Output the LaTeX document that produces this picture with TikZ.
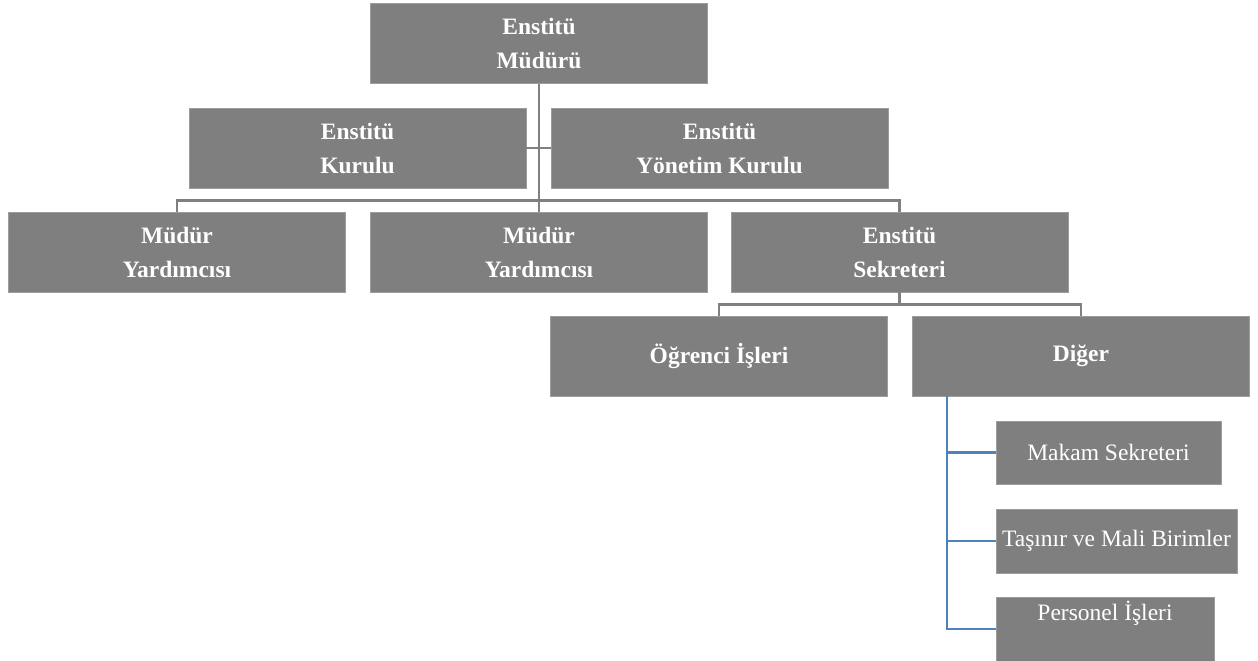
\documentclass[tikz,border=0pt]{standalone}
\usepackage{fontspec}
\setmainfont{Liberation Serif}
\usepackage{tikz}
\usetikzlibrary{positioning, calc}
\definecolor{boxgray}{HTML}{7F7F7F}
\definecolor{boxedge}{HTML}{9C9C9C}
\definecolor{linkgray}{HTML}{808080}
\definecolor{linkblue}{HTML}{4F81BD}
\tikzset{unit/.style={rectangle, fill=boxgray, draw=boxedge, line width=.8pt, text=white, align=center, inner sep=0pt, minimum width=337pt, minimum height=80pt, font=\fontsize{23.5}{34}\selectfont\bfseries}, subunit/.style={rectangle, fill=boxgray, draw=boxedge, line width=.8pt, text=white, align=center, inner sep=0pt, minimum height=64pt, font=\fontsize{23.5}{30}\selectfont}, graylink/.style={draw=linkgray, line width=2.8pt}, bluelink/.style={draw=linkblue, line width=2.6pt}}

\begin{document}
\begin{tikzpicture}[x=1pt, y=-1pt]
    \useasboundingbox (0,0) rectangle (1258,661);
    \node[unit] (mudur) at (539,43.5) {Enstitü\\Müdürü};
    \node[unit] (kurul) at (357.5,148) {Enstitü\\Kurulu};
    \node[unit] (yonetim) at (719.5,148) {Enstitü\\Yönetim Kurulu};
    \node[unit] (yard1) at (177,252) {Müdür\\Yardımcısı};
    \node[unit] (yard2) at (539,252) {Müdür\\Yardımcısı};
    \node[unit] (sekreter) at (899.5,252) {Enstitü\\Sekreteri};
    \node[unit] (ogrenci) at (719,356) {Öğrenci İşleri};
    \node[unit] (diger) at (1081,356) {Diğer};
    \node[subunit, minimum width=225pt, minimum height=63pt] (makam) at (1108.5,452.5) {Makam Sekreteri};
    \node[subunit, minimum width=241pt] (tasinir) at (1116.5,541) {Taşınır ve Mali Birimler};
    \node[subunit, minimum width=218pt, text height=23pt, text depth=41pt, anchor=base] (personel) at (1105,620) {Personel İşleri};
    \draw[graylink] (mudur.south) -- (yard2.north);
    \draw[graylink] (kurul.east) -- (yonetim.west);
    \draw[graylink] (yard1.north) -- ++(0,-11) -| (sekreter.north);
    \coordinate (sekbus) at ($(sekreter.south)+(0,12)$);
    \draw[graylink] (sekreter.south) -- (sekbus);
    \draw[graylink] (ogrenci.north) |- (sekbus) -| (diger.north);
    \coordinate (trunk) at ($(diger.south west)+(35,0)$);
    \draw[bluelink] (trunk) |- (personel.west);
    \draw[bluelink] (trunk |- makam.west) -- (makam.west);
    \draw[bluelink] (trunk |- tasinir.west) -- (tasinir.west);
\end{tikzpicture}
\end{document}
